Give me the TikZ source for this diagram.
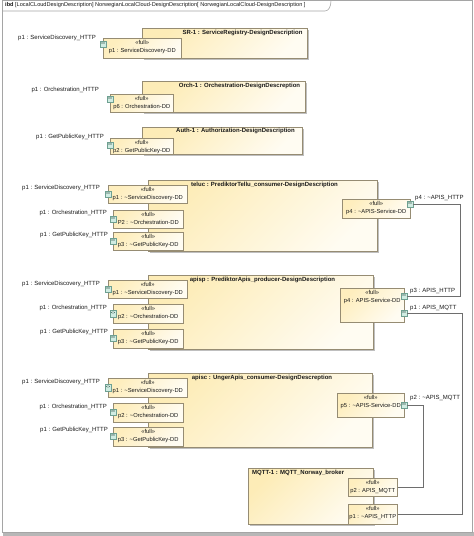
\documentclass[tikz,border=0pt]{standalone}
\usepackage{fontspec}
\setmainfont{Liberation Sans}
\usetikzlibrary{shadows}
\definecolor{blkY}{RGB}{253,236,183}
\definecolor{blkW}{RGB}{255,252,242}
\definecolor{boxY}{RGB}{254,238,190}
\definecolor{bordC}{RGB}{150,140,115}
\definecolor{iconF}{RGB}{208,236,226}
\definecolor{iconD}{RGB}{110,160,145}
\definecolor{connC}{RGB}{110,110,110}
\definecolor{frameC}{RGB}{165,165,165}
\definecolor{txtC}{RGB}{25,25,25}
\tikzset{
 blk/.style={draw=bordC, line width=0.6pt, top color=blkY, bottom color=blkW, shading angle=45, inner sep=0pt,
   drop shadow={shadow xshift=1.2pt, shadow yshift=-1.2pt}},
 pbx/.style={draw=bordC, line width=0.5pt, top color=boxY, bottom color=blkW, shading angle=45, inner sep=0pt},
 ptext/.style={font=\fontsize{5.8}{8.5}\selectfont, text=txtC, align=center, inner sep=0.8pt},
 ttl/.style={font=\bfseries\fontsize{6}{7}\selectfont, text=txtC, inner sep=0pt},
 lbl/.style={font=\fontsize{6}{7}\selectfont, text=txtC, inner sep=0pt},
 conn/.style={draw=connC, line width=0.8pt},
 picon/.style={draw=iconD, fill=iconF, line width=0.4pt, minimum size=6.5pt, inner sep=0pt,
   path picture={
     \draw[iconD!60!black, line width=0.3pt] ([xshift=-0.4pt,yshift=1.8pt]path picture bounding box.center) -- ++(-1.3pt,-0.8pt) -- ++(1.3pt,-0.8pt);
     \draw[iconD!60!black, line width=0.3pt] ([xshift=0.4pt,yshift=1.8pt]path picture bounding box.center) -- ++(1.3pt,-0.8pt) -- ++(-1.3pt,-0.8pt);
   }},
}
\newcommand\blkbox[5]{\node[blk, anchor=north west, minimum width={#4pt-#2pt}, minimum height={#5pt-#3pt}] (#1) at (#2,#3) {};}
\newcommand\portbox[6]{\node[pbx, anchor=north west, minimum width={#4pt-#2pt}, minimum height={#5pt-#3pt}] (#1) at (#2,#3) {};
  \node[ptext, anchor=north] (#1t) at ([yshift=-0.8pt]#1.north) {«full»\\#6};}
\begin{document}
\begin{tikzpicture}[x=1pt, y=-1pt]
\useasboundingbox (0,0) rectangle (474,536);
% frame
\fill[frameC!80] (3,532) rectangle (474,535.5);
\draw[frameC, line width=1pt] (2,0.5) rectangle (472.5,532);
\draw[frameC, line width=0.6pt] (2,11) -- (325,11) .. controls (329,11) and (331,6) .. (331,0.5);
\node[lbl, anchor=west, font=\fontsize{5.6}{7}\selectfont] (hdr) at (5,5.5) {\textbf{ibd} [LocalCLoudDesignDescription] NorwegianLocalCloud-DesignDescription[ NorwegianLocalCloud-DesignDescription ]};

% ---------- SR-1
\blkbox{sr}{142}{28}{307}{58}
\node[ttl] (srt) at (242.5,33) {SR-1 : ServiceRegistry-DesignDescription};
\portbox{srp}{103}{38}{181}{58}{p1 : ServiceDiscovery-DD}
\node[picon] (srpi) at (103,44) {};
\node[lbl, anchor=east] (srl) at (96,38) {p1 : ServiceDiscovery\_HTTP};

% ---------- Orch-1
\blkbox{or}{142}{81}{305}{112}
\node[ttl] (ort) at (239.5,86) {Orch-1 : Orchestration-DesignDescreption};
\portbox{orp}{110}{94}{173}{112}{p6 : Orchestration-DD}
\node[picon] (orpi) at (110,99) {};
\node[lbl, anchor=east] (orl) at (99,90) {p1 : Orchestration\_HTTP};

% ---------- Auth-1
\blkbox{au}{142}{127}{302}{154}
\node[ttl] (aut) at (235.5,131) {Auth-1 : Authorization-DesignDescription};
\portbox{aup}{110}{138}{173}{154}{p2 : GetPublicKey-DD}
\node[picon] (aupi) at (110,145) {};
\node[lbl, anchor=east] (aul) at (104,137) {p1 : GetPublicKey\_HTTP};

% ---------- teluc
\blkbox{tl}{148}{180}{377}{251}
\node[ttl] (tlt) at (264.5,185) {teluc : PrediktorTellu\_consumer-DesignDescription};
\portbox{tp1}{108}{185}{187}{203}{p1 : \textasciitilde ServiceDiscovery-DD}
\portbox{tp2}{113}{210}{183}{228}{P2 : \textasciitilde Orchestration-DD}
\portbox{tp3}{113}{232}{183}{250}{p3 : \textasciitilde GetPublicKey-DD}
\portbox{tp4}{342}{199}{410}{218}{p4 : \textasciitilde APIS-Service-DD}
\node[picon] (tp1i) at (108,194) {};
\node[picon] (tp2i) at (113,219) {};
\node[picon] (tp3i) at (113,241) {};
\node[picon] (tp4i) at (410,204) {};
\node[lbl, anchor=east] (tl1) at (100,188) {p1 : ServiceDiscovery\_HTTP};
\node[lbl, anchor=east] (tl2) at (107,213) {p1 : Orchestration\_HTTP};
\node[lbl, anchor=east] (tl3) at (108,235) {p1 : GetPublicKey\_HTTP};
\node[lbl, anchor=west] (tl4) at (415,198) {p4 : \textasciitilde APIS\_HTTP};

% ---------- apisp
\blkbox{ap}{148}{275}{373}{349}
\node[ttl] (apt) at (262.5,280) {apisp : PrediktorApis\_producer-DesignDescription};
\portbox{ap1}{108}{280}{187}{298}{p1 : \textasciitilde ServiceDiscovery-DD}
\portbox{ap2}{113}{304}{183}{323}{p2 : \textasciitilde Orchestration-DD}
\portbox{ap3}{113}{329}{183}{348}{p3 : \textasciitilde GetPublicKey-DD}
\portbox{ap4}{340}{288}{404}{322}{p4 : APIS-Service-DD}
\node[picon] (ap1i) at (108,289) {};
\node[picon] (ap2i) at (113,313.5) {};
\node[picon] (ap3i) at (113,338) {};
\node[picon] (aphi) at (404,296) {};
\node[picon] (apmi) at (404,313) {};
\node[lbl, anchor=east] (al1) at (100,284) {p1 : ServiceDiscovery\_HTTP};
\node[lbl, anchor=east] (al2) at (107,308) {p1 : Orchestration\_HTTP};
\node[lbl, anchor=east] (al3) at (108,332) {p1 : GetPublicKey\_HTTP};
\node[lbl, anchor=west] (alh) at (410,291) {p3 : APIS\_HTTP};
\node[lbl, anchor=west] (alm) at (410,308) {p1 : APIS\_MQTT};

% ---------- apisc
\blkbox{ac}{148}{373}{372}{447}
\node[ttl] (act) at (262,378) {apisc : UngerApis\_consumer-DesignDescreption};
\portbox{cp1}{108}{378}{187}{397}{p1 : \textasciitilde ServiceDiscovery-DD}
\portbox{cp2}{113}{403}{183}{422}{p2 : \textasciitilde Orchestration-DD}
\portbox{cp3}{113}{427}{183}{446}{p3 : \textasciitilde GetPublicKey-DD}
\portbox{cp5}{337}{393}{404}{417}{p5 : \textasciitilde APIS-Service-DD}
\node[picon] (cp1i) at (108,387.5) {};
\node[picon] (cp2i) at (113,412) {};
\node[picon] (cp3i) at (113,436) {};
\node[picon] (cpmi) at (404,405) {};
\node[lbl, anchor=east] (cl1) at (100,382) {p1 : ServiceDiscovery\_HTTP};
\node[lbl, anchor=east] (cl2) at (107,407) {p1 : Orchestration\_HTTP};
\node[lbl, anchor=east] (cl3) at (108,430) {p1 : GetPublicKey\_HTTP};
\node[lbl, anchor=west] (clm) at (410,398) {p2 : \textasciitilde APIS\_MQTT};

% ---------- MQTT-1
\blkbox{mq}{248}{468}{373}{524}
\node[ttl, anchor=west] (mqt) at (252,473) {MQTT-1 : MQTT\_Norway\_broker};
\portbox{mp2}{348}{478}{397}{496}{p2 : APIS\_MQTT}
\portbox{mp1}{348}{504}{397}{524}{p1 : \textasciitilde APIS\_HTTP}

% ---------- connectors
\coordinate (v1) at (460,0);
\coordinate (v2) at (462,0);
\coordinate (v3) at (423,0);
\draw[conn] (tp4i.east) -- (tp4i.east -| v1) |- (aphi.east);
\draw[conn] (apmi.east) -- (apmi.east -| v2) |- (mp1.east);
\draw[conn] (cpmi.east) -- (cpmi.east -| v3) |- (mp2.east);
\end{tikzpicture}
\end{document}
